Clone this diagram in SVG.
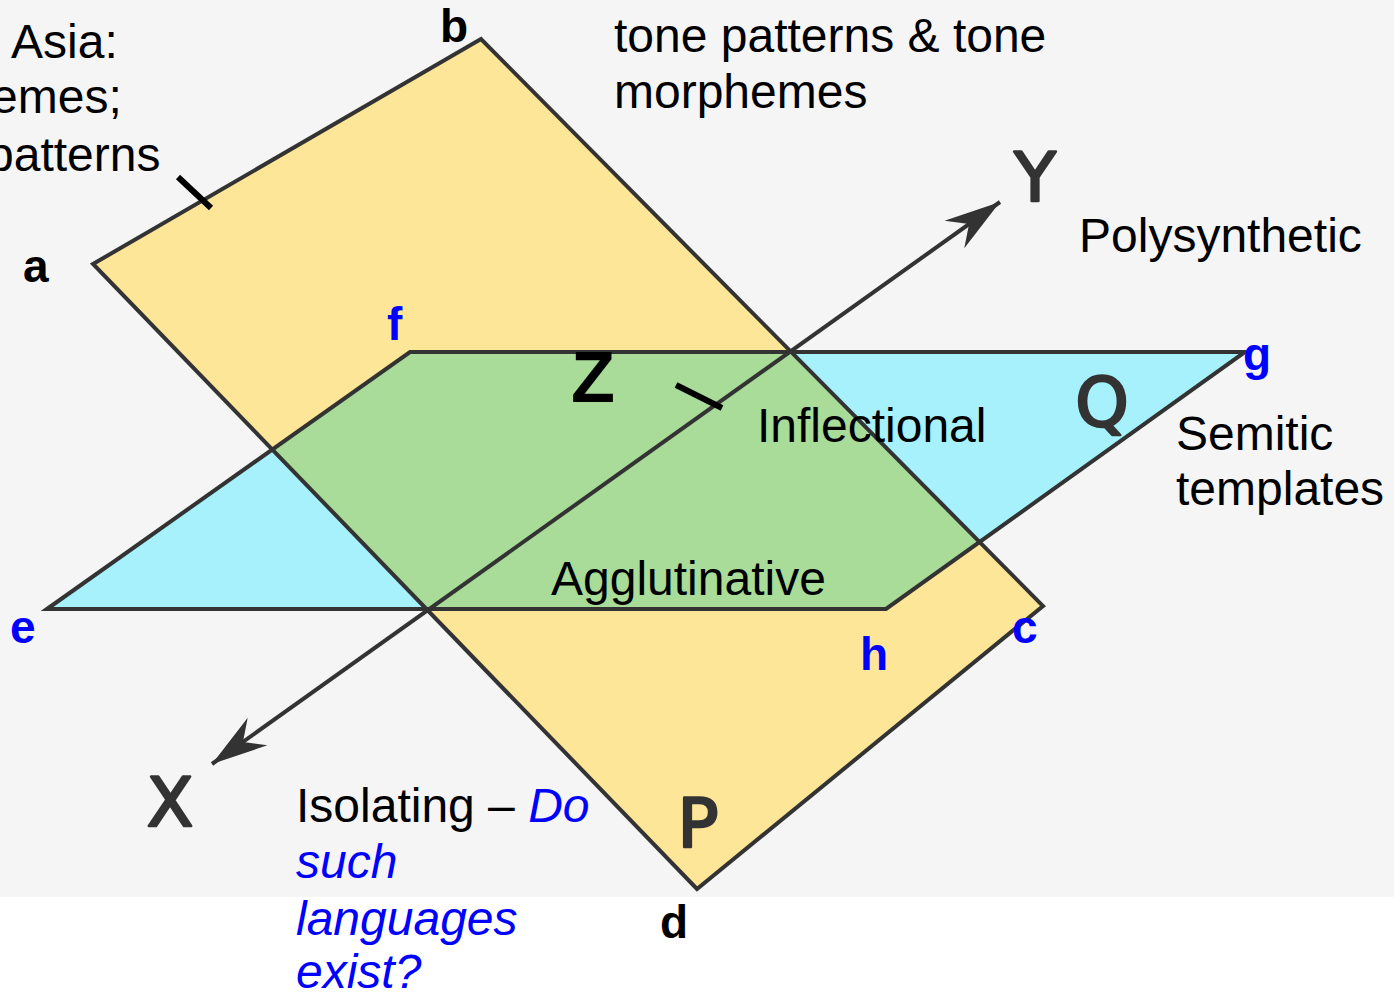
<svg xmlns="http://www.w3.org/2000/svg" width="1394" height="994" viewBox="0 0 1394 994">
  <defs>
    <style>
      .t { font-family: "Liberation Sans", Arial, sans-serif; font-size: 48px; fill: #000; }
      .lb { font-family: "Liberation Sans", Arial, sans-serif; font-size: 46px; font-weight: bold; fill: #000; }
      .blue { fill: #0000ff; }
      .it { font-style: italic; fill: #0000ff; }
      .ax { font-family: "DejaVu Sans", "Liberation Sans", sans-serif; font-size: 68px; font-weight: normal; fill: #333; stroke: #333; stroke-width: 2.5; stroke-linejoin: round; stroke-linecap: round; text-anchor: middle; }
      .edge { fill: none; stroke: #333; stroke-width: 4; stroke-linejoin: miter; }
      .tick { stroke: #000; stroke-width: 6; }
    </style>
    <marker id="barb" viewBox="-60 -20 62 40" refX="0" refY="0" markerWidth="62" markerHeight="40" markerUnits="userSpaceOnUse" orient="auto-start-reverse">
      <path d="M0,0 L-56,-17 L-38,0 L-56,17 Z" fill="#333"/>
    </marker>
  </defs>

  <rect x="0" y="0" width="1394" height="994" fill="#ffffff"/>
  <rect x="0" y="0" width="1394" height="897" fill="#f5f5f5"/>

  <g id="plane-P">
    <polygon points="93,264 481,39 1043,606 697,889" fill="#fde698"/>
  </g>
  <g id="plane-Q">
    <polygon points="47,609 410,352 1245,352 886,609" fill="#a6f1fc"/>
  </g>
  <g id="overlap">
    <polygon points="410,352 272.3,449.5 426.4,609 886,609 979.5,542 791.2,352" fill="#a8dc98"/>
  </g>
  <g id="edges">
    <polygon class="edge" points="93,264 481,39 1043,606 697,889"/>
    <polygon class="edge" points="47,609 410,352 1245,352 886,609"/>
  </g>

  <g id="connectors">
    <line x1="212" y1="764" x2="1000" y2="202" stroke="#333" stroke-width="4" marker-start="url(#barb)" marker-end="url(#barb)"/>
  </g>

  <g id="ticks">
    <line class="tick" x1="178" y1="177" x2="211" y2="208"/>
    <line class="tick" x1="676" y1="385" x2="722" y2="408"/>
  </g>

  <g id="axis-labels">
    <text class="ax" x="1035" y="201">Y</text>
    <text class="ax" x="170" y="826">X</text>
    <text class="ax" x="698" y="847">P</text>
    <text class="ax" x="1102" y="426" font-size="74">Q</text>
    <text x="571" y="402" font-family="Liberation Sans, Arial, sans-serif" font-size="72" font-weight="bold" fill="#000">Z</text>
  </g>

  <g id="corner-labels">
    <text class="lb" x="23" y="282">a</text>
    <text class="lb" x="440" y="42">b</text>
    <text class="lb blue" x="1012" y="643">c</text>
    <text class="lb" x="660" y="938">d</text>
    <text class="lb blue" x="10" y="643">e</text>
    <text class="lb blue" x="387" y="340">f</text>
    <text class="lb blue" x="1243" y="370">g</text>
    <text class="lb blue" x="860" y="670">h</text>
  </g>

  <g id="texts">
    <text class="t" x="11" y="58">Asia:</text>
    <text class="t" x="-9" y="113">emes;</text>
    <text class="t" x="-13" y="171">patterns</text>
    <text class="t" x="614" y="52">tone patterns &amp; tone</text>
    <text class="t" x="614" y="108">morphemes</text>
    <text class="t" x="1079" y="252">Polysynthetic</text>
    <text class="t" x="757" y="442">Inflectional</text>
    <text class="t" x="551" y="595">Agglutinative</text>
    <text class="t" x="1176" y="450">Semitic</text>
    <text class="t" x="1176" y="505">templates</text>
    <text class="t" x="296" y="822">Isolating – <tspan class="it">Do</tspan></text>
    <text class="t it" x="296" y="878">such</text>
    <text class="t it" x="296" y="935">languages</text>
    <text class="t it" x="296" y="988">exist?</text>
  </g>
</svg>
